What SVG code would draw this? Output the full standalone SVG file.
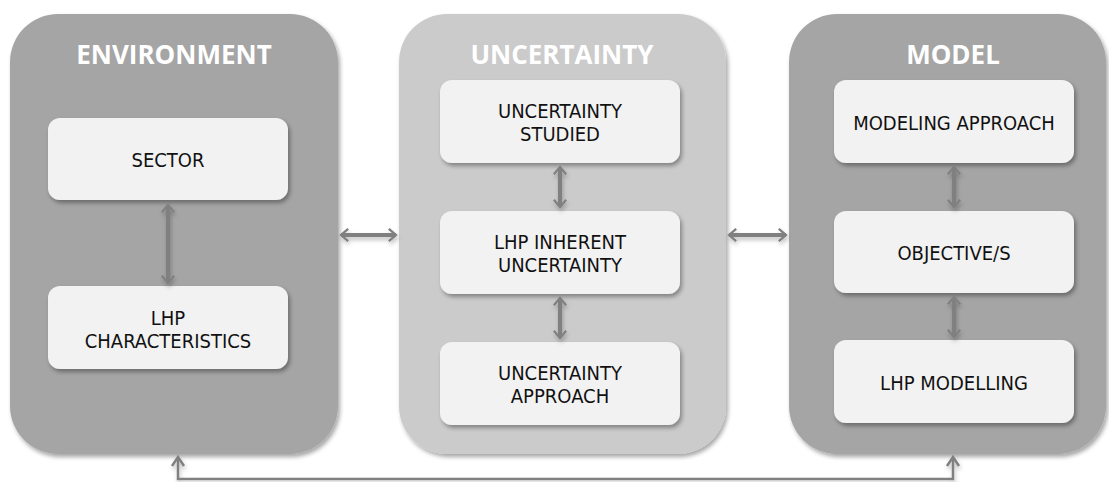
<svg xmlns="http://www.w3.org/2000/svg" width="1109" height="482" viewBox="0 0 1109 482">
<style>
.dark{fill:#a5a5a5}
.light{fill:#cbcbcb}
.box{fill:#f2f2f2}
.title{font-family:"Open Sans","DejaVu Sans",sans-serif;font-weight:bold;font-size:26px;fill:#ffffff;text-anchor:middle}
.lbl{font-family:"DejaVu Sans Condensed","DejaVu Sans",sans-serif;font-size:20px;fill:#111111;text-anchor:middle}
.con{stroke:#808080;stroke-width:4;fill:none}
</style>
<defs>
<filter id="sh" x="-10%" y="-10%" width="125%" height="130%">
<feDropShadow dx="2" dy="3" stdDeviation="2" flood-color="#000" flood-opacity="0.35"/>
</filter>
<filter id="lsh" filterUnits="userSpaceOnUse" x="0" y="0" width="1109" height="482">
<feDropShadow dx="1" dy="3" stdDeviation="2" flood-color="#000" flood-opacity="0.25"/>
</filter>
<marker id="ah" viewBox="0 0 10 14" refX="8" refY="7" markerWidth="2.6" markerHeight="3.6" orient="auto-start-reverse" markerUnits="strokeWidth">
<path d="M1,1 L8,7 L1,13" fill="none" stroke="#808080" stroke-width="2.2"/>
</marker>
</defs>
<g id="environment">
<rect class="dark" x="10" y="14" width="328" height="440" rx="48" filter="url(#sh)"/>
<text class="title" x="174" y="64">ENVIRONMENT</text>
</g>
<g id="uncertainty">
<rect class="light" x="399" y="14" width="327" height="440" rx="48" filter="url(#sh)"/>
<text class="title" x="562" y="64">UNCERTAINTY</text>
</g>
<g id="model">
<rect class="dark" x="789" y="14" width="317" height="440" rx="48" filter="url(#sh)"/>
<text class="title" x="953" y="64">MODEL</text>
</g>
<g id="sector">
<rect class="box" x="48" y="118" width="240" height="82" rx="12" filter="url(#sh)"/>
<text class="lbl" x="168" y="167">SECTOR</text>
</g>
<g id="lhp-characteristics">
<rect class="box" x="48" y="286" width="240" height="83" rx="12" filter="url(#sh)"/>
<text class="lbl" x="168" y="325">LHP</text>
<text class="lbl" x="168" y="348">CHARACTERISTICS</text>
</g>
<g id="uncertainty-studied">
<rect class="box" x="440" y="80" width="240" height="83" rx="12" filter="url(#sh)"/>
<text class="lbl" x="560" y="118">UNCERTAINTY</text>
<text class="lbl" x="560" y="141">STUDIED</text>
</g>
<g id="lhp-inherent-uncertainty">
<rect class="box" x="440" y="211" width="240" height="83" rx="12" filter="url(#sh)"/>
<text class="lbl" x="560" y="249">LHP INHERENT</text>
<text class="lbl" x="560" y="272">UNCERTAINTY</text>
</g>
<g id="uncertainty-approach">
<rect class="box" x="440" y="342" width="240" height="83" rx="12" filter="url(#sh)"/>
<text class="lbl" x="560" y="380">UNCERTAINTY</text>
<text class="lbl" x="560" y="403">APPROACH</text>
</g>
<g id="modeling-approach">
<rect class="box" x="834" y="80" width="240" height="83" rx="12" filter="url(#sh)"/>
<text class="lbl" x="954" y="130">MODELING APPROACH</text>
</g>
<g id="objectives">
<rect class="box" x="834" y="211" width="240" height="82" rx="12" filter="url(#sh)"/>
<text class="lbl" x="954" y="260">OBJECTIVE/S</text>
</g>
<g id="lhp-modelling">
<rect class="box" x="834" y="340" width="240" height="83" rx="12" filter="url(#sh)"/>
<text class="lbl" x="954" y="390">LHP MODELLING</text>
</g>
<g id="connectors" filter="url(#lsh)">
<line class="con" x1="168" y1="205" x2="168" y2="283" marker-start="url(#ah)" marker-end="url(#ah)"/>
<line class="con" x1="560" y1="167" x2="560" y2="207" marker-start="url(#ah)" marker-end="url(#ah)"/>
<line class="con" x1="560" y1="298" x2="560" y2="338" marker-start="url(#ah)" marker-end="url(#ah)"/>
<line class="con" x1="954" y1="167" x2="954" y2="207" marker-start="url(#ah)" marker-end="url(#ah)"/>
<line class="con" x1="954" y1="297" x2="954" y2="337" marker-start="url(#ah)" marker-end="url(#ah)"/>
<line class="con" x1="341" y1="235" x2="396" y2="235" marker-start="url(#ah)" marker-end="url(#ah)"/>
<line class="con" x1="729" y1="235" x2="786" y2="235" marker-start="url(#ah)" marker-end="url(#ah)"/>
<polyline points="178,458 178,479 953,479 953,458" fill="none" stroke="#808080" stroke-width="2.5"/>
<path d="M172,466 L178,457 L184,466 M947,466 L953,457 L959,466" fill="none" stroke="#808080" stroke-width="2.5"/>
</g>
</svg>
